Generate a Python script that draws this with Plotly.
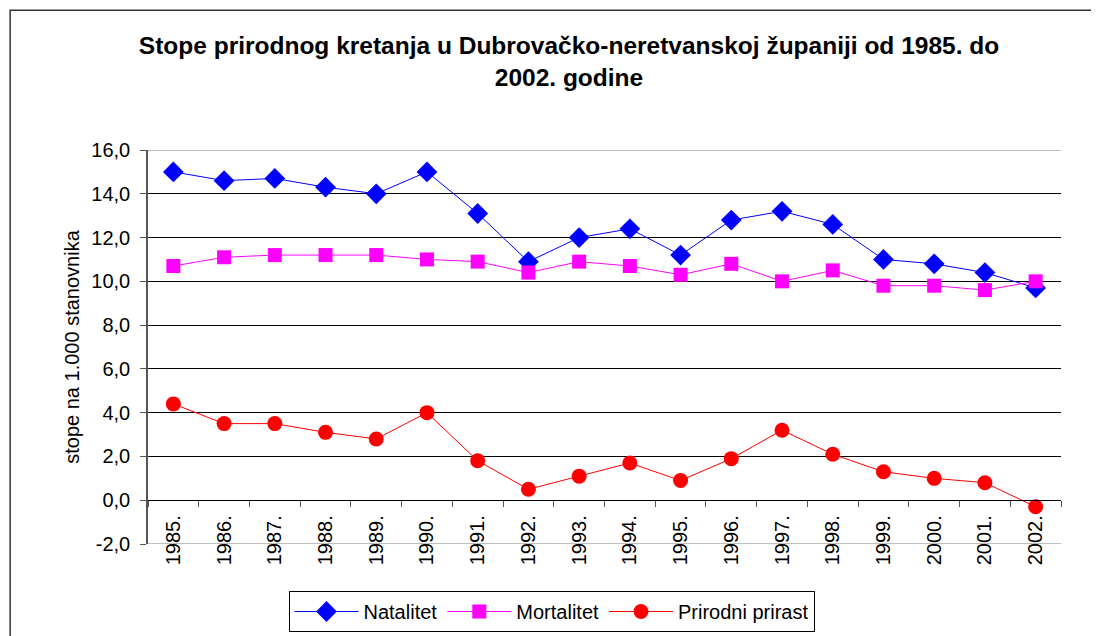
import plotly.graph_objects as go

years = ["1985.", "1986.", "1987.", "1988.", "1989.", "1990.", "1991.", "1992.", "1993.",
         "1994.", "1995.", "1996.", "1997.", "1998.", "1999.", "2000.", "2001.", "2002."]
natalitet = [15.0, 14.6, 14.7, 14.3, 14.0, 15.0, 13.1, 10.9, 12.0,
             12.4, 11.2, 12.8, 13.2, 12.6, 11.0, 10.8, 10.4, 9.7]
mortalitet = [10.7, 11.1, 11.2, 11.2, 11.2, 11.0, 10.9, 10.4, 10.9,
              10.7, 10.3, 10.8, 10.0, 10.5, 9.8, 9.8, 9.6, 10.0]
prirast = [4.4, 3.5, 3.5, 3.1, 2.8, 4.0, 1.8, 0.5, 1.1,
           1.7, 0.9, 1.9, 3.2, 2.1, 1.3, 1.0, 0.8, -0.3]
y_ticks = [-2, 0, 2, 4, 6, 8, 10, 12, 14, 16]
y_ticktext = ["-2,0", "0,0", "2,0", "4,0", "6,0", "8,0", "10,0", "12,0", "14,0", "16,0"]

FONT = "Liberation Sans, Arial, sans-serif"
W, H = 1091, 628  # page body has an 8px default margin

fig = go.Figure()
fig.add_trace(go.Scatter(x=years, y=natalitet, name="Natalitet", mode="lines+markers",
                         line=dict(color="#0000FF", width=1),
                         marker=dict(symbol="diamond", size=16, color="#0000FF")))
fig.add_trace(go.Scatter(x=years, y=mortalitet, name="Mortalitet", mode="lines+markers",
                         line=dict(color="#FF00FF", width=1),
                         marker=dict(symbol="square", size=14, color="#FF00FF")))
fig.add_trace(go.Scatter(x=years, y=prirast, name="Prirodni prirast", mode="lines+markers",
                         line=dict(color="#FF0000", width=1),
                         marker=dict(symbol="circle", size=15, color="#FF0000")))

# gray lines at the top and bottom of the plot area
for yv in (16, -2):
    fig.add_shape(type="line", xref="paper", yref="y", x0=0, x1=1, y0=yv, y1=yv,
                  line=dict(color="#BFBFBF", width=2), layer="above")

# outer chart border
fig.add_shape(type="rect", xref="paper", yref="paper", x0=-0.151, x1=1.2, y0=-0.4, y1=1.355,
              line=dict(color="#333333", width=1.5), layer="below")

fig.update_layout(
    width=W, height=H,
    margin=dict(l=140, r=38, t=142, b=92),
    paper_bgcolor="white", plot_bgcolor="white",
    font=dict(family=FONT, size=20, color="black"),
    title=dict(text="Stope prirodnog kretanja u Dubrovačko-neretvanskoj županiji od 1985. do<br>2002. godine",
               x=561 / W, xanchor="center", y=1 - 46 / H, yanchor="top", yref="container",
               font=dict(family=FONT, size=24.5, color="black", weight="bold")),
    showlegend=True,
    legend=dict(orientation="h", x=543.5 / W, xanchor="center", xref="container",
                y=1 - 583 / H, yanchor="top", yref="container",
                bordercolor="black", borderwidth=1, font=dict(size=20),
                itemwidth=64, traceorder="normal"),
    xaxis=dict(type="category", anchor="free", position=2 / 18, automargin=False,
               showline=True, linecolor="black", linewidth=1,
               ticks="outside", ticklen=6, tickcolor="#555555", tickson="boundaries",
               tickangle=-90, showgrid=False, tickfont=dict(size=20), ticklabelstandoff=6,
               range=[-0.5, 17.5]),
    yaxis=dict(range=[-2, 16], tickvals=y_ticks, ticktext=y_ticktext, automargin=False,
               showgrid=True, gridcolor="black", gridwidth=1,
               showline=True, linecolor="#555555", linewidth=1.5,
               ticks="outside", ticklen=6, tickcolor="#555555", ticklabelstandoff=6,
               zeroline=False, tickfont=dict(size=20),
               title=dict(text="stope na 1.000 stanovnika", font=dict(size=20), standoff=6)),
)

fig.write_html("out.html")
